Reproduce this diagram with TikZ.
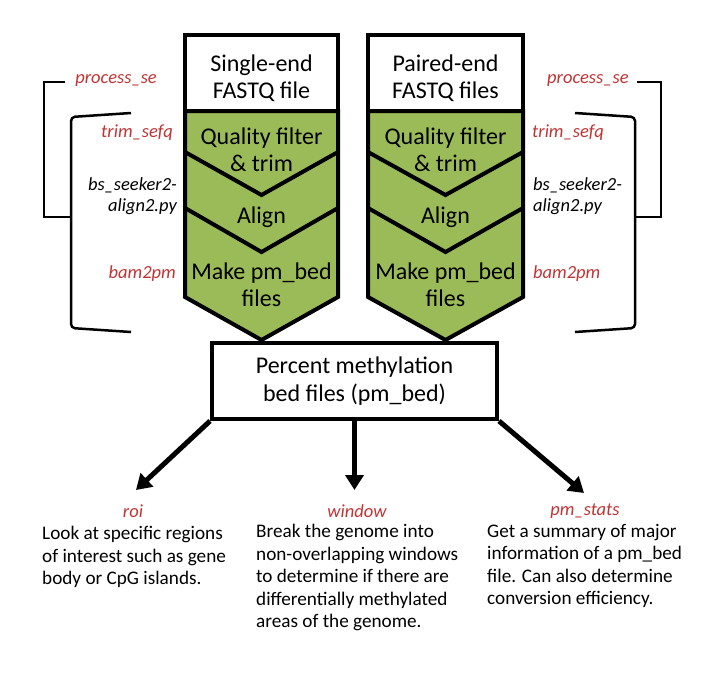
\documentclass[tikz,border=0pt]{standalone}
\usepackage{fontspec}
\setmainfont{Carlito}
\usetikzlibrary{arrows.meta}
\definecolor{olivegreen}{HTML}{9BBB59}
\definecolor{labelred}{RGB}{192,52,52}
\begin{document}
\begin{tikzpicture}[x=1pt,y=-1pt,
  colline/.style={line width=4pt, line join=miter},
  boxtext/.style={font=\fontsize{24}{27}\selectfont, align=center, inner sep=0},
  sidelabel/.style={font=\fontsize{18.5}{21}\selectfont\itshape, inner sep=0},
  redlabel/.style={sidelabel, text=labelred},
  bracketline/.style={line width=2.5pt, rounded corners=4pt},
  desc/.style={font=\fontsize{19.2}{22.5}\selectfont, align=left, inner sep=0, anchor=north west},
  bigarrow/.style={line width=5pt, -{Triangle[length=15pt,width=18pt]}}
]
\useasboundingbox (0,0) rectangle (720,672);

% Left column
\fill[white] (185,35) rectangle (338,111);
\fill[olivegreen] (185,111) -- (338,111) -- (338,297) -- (261.5,340) -- (185,297) -- cycle;
\draw[colline] (185,111) -- (185,35) -- (338,35) -- (338,111);
\draw[colline] (185,111) -- (338,111) -- (338,297) -- (261.5,340) -- (185,297) -- cycle;
\draw[colline] (185,152) -- (261.5,195) -- (338,152);
\draw[colline] (185,208) -- (261.5,252) -- (338,208);
\node[boxtext] (se) at (261.5,78) {Single-end\\FASTQ file};
\node[boxtext] (qf1) at (261.5,150) {Quality filter\\\& trim};
\node[boxtext] (al1) at (261.5,217) {Align};
\node[boxtext] (mk1) at (261.5,285) {Make pm\_bed\\files};

% Right column
\fill[white] (368,35) rectangle (523,111);
\fill[olivegreen] (368,111) -- (523,111) -- (523,297) -- (445.5,340) -- (368,297) -- cycle;
\draw[colline] (368,111) -- (368,35) -- (523,35) -- (523,111);
\draw[colline] (368,111) -- (523,111) -- (523,297) -- (445.5,340) -- (368,297) -- cycle;
\draw[colline] (368,152) -- (445.5,195) -- (523,152);
\draw[colline] (368,208) -- (445.5,252) -- (523,208);
\node[boxtext] (pe) at (445.5,78) {Paired-end\\FASTQ files};
\node[boxtext] (qf2) at (445.5,150) {Quality filter\\\& trim};
\node[boxtext] (al2) at (445.5,217) {Align};
\node[boxtext] (mk2) at (445.5,285) {Make pm\_bed\\files};

% Left brackets and labels
\draw[line width=2.5pt] (65,82) -- (44,82) -- (44,217) -- (71,217);
\draw[bracketline] (131,113) -- (71,117) -- (71,328) -- (131,332);
\node[redlabel, anchor=east] (lpse) at (157,81) {process\_se};
\node[redlabel, anchor=east] (ltrim) at (173,133) {trim\_sefq};
\node[sidelabel, anchor=east, align=right] (lbs) at (177,196) {bs\_seeker2-\\align2.py};
\node[redlabel, anchor=east] (lbam) at (176,274) {bam2pm};

% Right brackets and labels
\draw[line width=2.5pt] (637,82) -- (661,82) -- (661,217) -- (635,217);
\draw[bracketline] (575,113) -- (635,117) -- (635,328) -- (575,332);
\node[redlabel, anchor=west] (rpse) at (547,81) {process\_se};
\node[redlabel, anchor=west] (rtrim) at (532,133) {trim\_sefq};
\node[sidelabel, anchor=west, align=left] (rbs) at (533,196) {bs\_seeker2-\\align2.py};
\node[redlabel, anchor=west] (rbam) at (533,274) {bam2pm};

% Bottom box
\node[draw, line width=4pt, fill=white, minimum width=285pt, minimum height=76pt,
      font=\fontsize{24}{28}\selectfont, align=center, inner sep=0] (pm) at (354.5,381)
      {Percent methylation\\bed files (pm\_bed)};

% Arrows
\coordinate (tl) at (136,490);
\coordinate (tm) at (354.5,490);
\coordinate (tr) at (584,493);
\draw[bigarrow] (pm.south west) -- (tl);
\draw[bigarrow] (pm.south) -- (tm);
\draw[bigarrow] (pm.south east) -- (tr);

% Bottom labels
\node[redlabel] (roi) at (133,511) {roi};
\node[redlabel] (win) at (357,511) {window};
\node[redlabel] (pms) at (585,511) {pm\_stats};

\node[desc] (droi) at (42,526) {Look at specific regions\\of interest such as gene\\body or CpG islands.};
\node[desc] (dwin) at (256,524) {Break the genome into\\non-overlapping windows\\to determine if there are\\differentially methylated\\areas of the genome.};
\node[desc] (dpms) at (487,524) {Get a summary of major\\information of a pm\_bed\\file. Can also determine\\conversion efficiency.};
\end{tikzpicture}
\end{document}
